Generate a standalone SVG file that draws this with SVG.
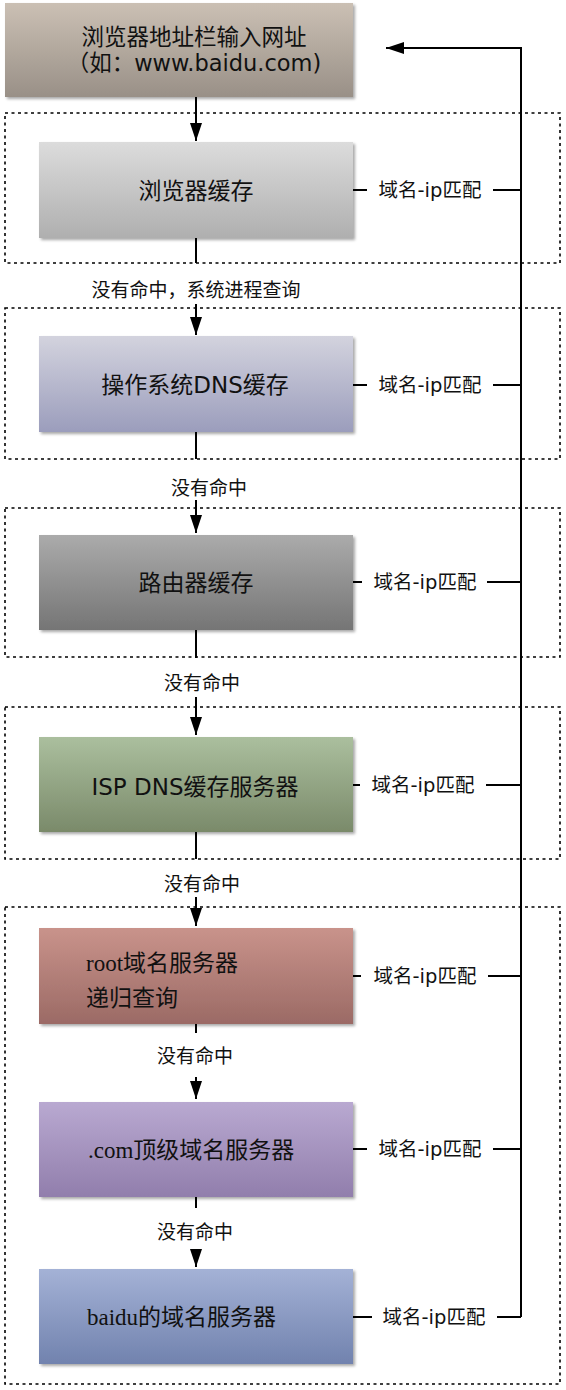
<svg xmlns="http://www.w3.org/2000/svg" width="566" height="1390" viewBox="0 0 566 1390">
<style>
.sans{font-family:"DejaVu Sans","Noto Sans CJK SC",sans-serif;fill:#111}
.serif{font-family:"Liberation Serif","Noto Sans CJK SC",serif;fill:#111}
.box{font-size:23px}
.top{font-size:22.5px}
.lbl{font-size:19.5px}
.miss{font-size:19px}
.dash{fill:none;stroke:#000;stroke-width:1.6;stroke-dasharray:3 3.5}
.ln{fill:none;stroke:#000;stroke-width:2}
</style>
<defs>
<marker id="ah" viewBox="0 0 18 12" markerWidth="18" markerHeight="12" refX="18" refY="6" orient="auto" markerUnits="userSpaceOnUse"><path d="M0,0 L18,6 L0,12 z" fill="#000"/></marker>
<filter id="sh" x="-5%" y="-5%" width="112%" height="115%"><feGaussianBlur in="SourceAlpha" stdDeviation="1.5"/><feOffset dx="1.5" dy="2" result="b"/><feComponentTransfer><feFuncA type="linear" slope="0.35"/></feComponentTransfer><feMerge><feMergeNode/><feMergeNode in="SourceGraphic"/></feMerge></filter>
<linearGradient id="g0" x1="0" y1="0" x2="0" y2="1"><stop offset="0" stop-color="#cbc0b4"/><stop offset="1" stop-color="#999087"/></linearGradient>
<linearGradient id="g1" x1="0" y1="0" x2="0" y2="1"><stop offset="0" stop-color="#dcdcdc"/><stop offset="1" stop-color="#afafaf"/></linearGradient>
<linearGradient id="g2" x1="0" y1="0" x2="0" y2="1"><stop offset="0" stop-color="#d3d3de"/><stop offset="1" stop-color="#9b9dbc"/></linearGradient>
<linearGradient id="g3" x1="0" y1="0" x2="0" y2="1"><stop offset="0" stop-color="#ababab"/><stop offset="1" stop-color="#757575"/></linearGradient>
<linearGradient id="g4" x1="0" y1="0" x2="0" y2="1"><stop offset="0" stop-color="#abbf9e"/><stop offset="1" stop-color="#7a8a6a"/></linearGradient>
<linearGradient id="g5" x1="0" y1="0" x2="0" y2="1"><stop offset="0" stop-color="#c9938b"/><stop offset="1" stop-color="#9b6a65"/></linearGradient>
<linearGradient id="g6" x1="0" y1="0" x2="0" y2="1"><stop offset="0" stop-color="#b9a9d1"/><stop offset="1" stop-color="#917eac"/></linearGradient>
<linearGradient id="g7" x1="0" y1="0" x2="0" y2="1"><stop offset="0" stop-color="#a4b2d6"/><stop offset="1" stop-color="#7182ae"/></linearGradient>
</defs>
<rect width="566" height="1390" fill="#fff"/>

<g id="groups">
<rect class="dash" x="5" y="113" width="555" height="150"/>
<rect class="dash" x="5" y="308" width="555" height="151"/>
<rect class="dash" x="5" y="508" width="555" height="149"/>
<rect class="dash" x="5" y="707" width="555" height="152"/>
<rect class="dash" x="5" y="907" width="555" height="477"/>
</g>

<g id="connectors">
<line class="ln" x1="196" y1="97" x2="196" y2="141" marker-end="url(#ah)"/>
<line class="ln" x1="196" y1="238" x2="196" y2="263"/>
<line class="ln" x1="196" y1="304" x2="196" y2="335" marker-end="url(#ah)"/>
<line class="ln" x1="196" y1="432" x2="196" y2="459"/>
<line class="ln" x1="196" y1="500" x2="196" y2="533" marker-end="url(#ah)"/>
<line class="ln" x1="196" y1="630" x2="196" y2="658"/>
<line class="ln" x1="196" y1="697" x2="196" y2="735" marker-end="url(#ah)"/>
<line class="ln" x1="196" y1="832" x2="196" y2="859"/>
<line class="ln" x1="196" y1="897" x2="196" y2="926" marker-end="url(#ah)"/>
<line class="ln" x1="196" y1="1024" x2="196" y2="1033"/>
<line class="ln" x1="196" y1="1077" x2="196" y2="1099" marker-end="url(#ah)"/>
<line class="ln" x1="196" y1="1197" x2="196" y2="1208"/>
<line class="ln" x1="196" y1="1250" x2="196" y2="1267" marker-end="url(#ah)"/>
<g id="miss-labels">
<text class="sans miss" x="196" y="297" text-anchor="middle">没有命中，系统进程查询</text>
<text class="sans miss" x="209" y="495" text-anchor="middle">没有命中</text>
<text class="sans miss" x="202" y="690" text-anchor="middle">没有命中</text>
<text class="sans miss" x="202" y="891" text-anchor="middle">没有命中</text>
<text class="sans miss" x="195" y="1063" text-anchor="middle">没有命中</text>
<text class="sans miss" x="195" y="1239" text-anchor="middle">没有命中</text>
</g>
<g id="match-lines">
<path class="ln" d="M353,190 H367 M493,190 H521"/>
<path class="ln" d="M353,385 H367 M493,385 H521"/>
<path class="ln" d="M353,582 H362 M487,582 H521"/>
<path class="ln" d="M353,785 H360 M486,785 H521"/>
<path class="ln" d="M353,976 H361 M488,976 H521"/>
<path class="ln" d="M353,1149 H367 M493,1149 H521"/>
<path class="ln" d="M353,1317 H372 M497,1317 H521"/>
<path class="ln" d="M521,1317 V48 H386" marker-end="url(#ah)"/>
<text class="sans lbl" x="430" y="197" text-anchor="middle">域名-ip匹配</text>
<text class="sans lbl" x="430" y="392" text-anchor="middle">域名-ip匹配</text>
<text class="sans lbl" x="425" y="589" text-anchor="middle">域名-ip匹配</text>
<text class="sans lbl" x="423" y="792" text-anchor="middle">域名-ip匹配</text>
<text class="sans lbl" x="425" y="983" text-anchor="middle">域名-ip匹配</text>
<text class="sans lbl" x="430" y="1156" text-anchor="middle">域名-ip匹配</text>
<text class="sans lbl" x="434" y="1324" text-anchor="middle">域名-ip匹配</text>
</g>
</g>

<g id="n0"><rect x="5" y="3" width="348" height="94" fill="url(#g0)" filter="url(#sh)"/>
<text class="sans top" x="194" y="45" text-anchor="middle">浏览器地址栏输入网址</text>
<text class="sans top" x="194" y="71" text-anchor="middle">（如：www.baidu.com)</text></g>
<g id="n1"><rect x="39" y="142" width="314" height="96" fill="url(#g1)" filter="url(#sh)"/>
<text class="sans box" x="196" y="199" text-anchor="middle">浏览器缓存</text></g>
<g id="n2"><rect x="39" y="336" width="314" height="96" fill="url(#g2)" filter="url(#sh)"/>
<text class="sans box" x="195" y="393" text-anchor="middle">操作系统DNS缓存</text></g>
<g id="n3"><rect x="39" y="535" width="314" height="95" fill="url(#g3)" filter="url(#sh)"/>
<text class="sans box" x="196" y="591" text-anchor="middle">路由器缓存</text></g>
<g id="n4"><rect x="39" y="737" width="314" height="95" fill="url(#g4)" filter="url(#sh)"/>
<text class="sans box" x="195" y="795" text-anchor="middle">ISP DNS缓存服务器</text></g>
<g id="n5"><rect x="39" y="928" width="314" height="96" fill="url(#g5)" filter="url(#sh)"/>
<text class="serif box" x="86" y="971">root域名服务器</text>
<text class="serif box" x="86" y="1006">递归查询</text></g>
<g id="n6"><rect x="39" y="1102" width="314" height="95" fill="url(#g6)" filter="url(#sh)"/>
<text class="serif box" x="88" y="1158">.com顶级域名服务器</text></g>
<g id="n7"><rect x="39" y="1269" width="314" height="95" fill="url(#g7)" filter="url(#sh)"/>
<text class="serif box" x="87" y="1325">baidu的域名服务器</text></g>
</svg>
